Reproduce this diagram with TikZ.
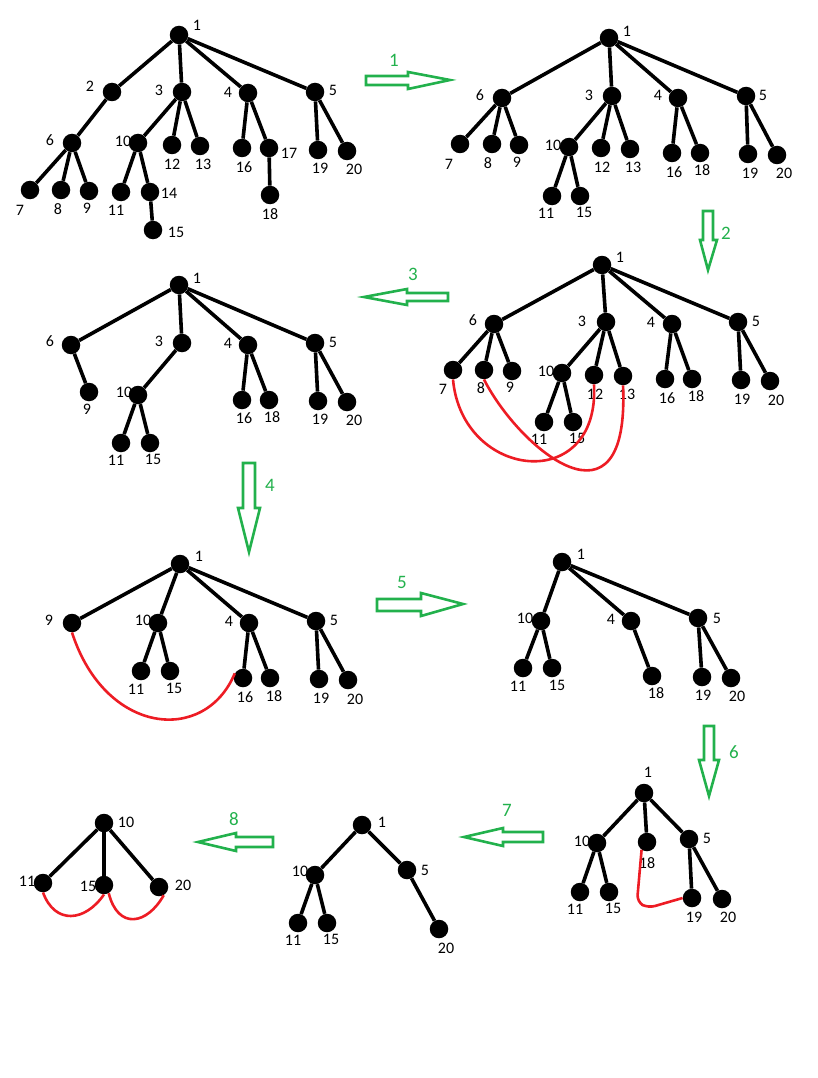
\documentclass[tikz,border=0pt]{standalone}
\usepackage{fontspec}
\setmainfont{Carlito}

\definecolor{paintgreen}{RGB}{34,177,76}
\definecolor{paintred}{RGB}{237,28,36}

\begin{document}
\begin{tikzpicture}[x=1pt, y=-1pt,
    dot/.style={circle, fill=black, minimum size=18.5pt, inner sep=0pt},
    lbl/.style={font=\fontsize{16}{16}\selectfont, inner sep=0pt},
    edge/.style={line width=3.6pt, draw=black},
    cut/.style={line width=2.6pt, draw=paintred},
    garrow/.style={line width=2.6pt, draw=paintgreen, line join=miter},
    glbl/.style={font=\fontsize{19}{19}\selectfont, text=paintgreen, inner sep=0pt}
]
    \useasboundingbox (0,0) rectangle (818,1078);

    % tree a (start)
    \foreach \n/\x/\y/\dx/\dy in {1/179/35/18/10, 2/112/92/-22/6, 3/182/92/-23/2, 4/248/93/-20/1, 5/315/92/18/2,
        6/72/143/-22/3, 10/138/143/-15/2, 12/172/145/0/-19, 13/200/146/3/-18, 16/242/148/2/-19,
        17/269/148/20/-5, 19/318/150/2/-18, 20/347/151/7/-18, 7/30/190/-10/-20, 8/61/190/-3/-19,
        9/89/191/-2/-17, 11/121/192/-5/-18, 14/150/192/19/-1, 15/153/230/23/-2, 18/270/195/0/-19}
        \node[dot, label={[lbl, xshift=\dx pt, yshift=\dy pt]center:\n}] (a\n) at (\x,\y) {};
    \foreach \p/\c in {1/2, 1/3, 1/4, 1/5, 2/6, 6/7, 6/8, 6/9, 3/10, 3/12, 3/13, 10/11, 10/14, 14/15,
        4/16, 4/17, 17/18, 5/19, 5/20}
        \draw[edge] (a\p) -- (a\c);

    % tree b
    \foreach \n/\x/\y/\dx/\dy in {1/609/38/18/7, 6/502/98/-22/3, 3/612/96/-23/1, 4/678/98/-20/3, 5/746/96/17/1,
        7/460/144/-11/-20, 8/492/144/-4/-19, 9/519/145/-2/-17, 10/569/147/-16/2, 12/601/148/1/-19,
        13/630/149/3/-18, 16/672/153/2/-19, 18/700/153/2/-17, 19/748/154/2/-19, 20/777/155/7/-18,
        11/552/196/-6/-17, 15/580/196/4/-16}
        \node[dot, label={[lbl, xshift=\dx pt, yshift=\dy pt]center:\n}] (b\n) at (\x,\y) {};
    \foreach \p/\c in {1/6, 1/3, 1/4, 1/5, 6/7, 6/8, 6/9, 3/10, 3/12, 3/13, 10/11, 10/15,
        4/16, 4/18, 5/19, 5/20}
        \draw[edge] (b\p) -- (b\c);

    % tree c
    \foreach \n/\x/\y/\dx/\dy in {1/602/265/18/8, 6/494/324/-21/4, 3/606/322/-24/1, 4/672/324/-21/2, 5/738/322/18/1,
        7/453/370/-10/-19, 8/484/370/-3/-18, 9/512/371/-2/-16, 10/562/373/-16/2, 12/594/375/1/-19,
        13/623/376/4/-18, 16/665/379/2/-19, 18/692/379/4/-17, 19/741/380/1/-19, 20/770/381/6/-19,
        11/544/422/-5/-17, 15/573/422/4/-16}
        \node[dot, label={[lbl, xshift=\dx pt, yshift=\dy pt]center:\n}] (c\n) at (\x,\y) {};
    \foreach \p/\c in {1/6, 1/3, 1/4, 1/5, 6/7, 6/8, 6/9, 3/10, 3/12, 3/13, 10/11, 10/15,
        4/16, 4/18, 5/19, 5/20}
        \draw[edge] (c\p) -- (c\c);
    \draw[cut] (c7.south) .. controls (462,480) and (600,495) .. (c12.south);
    \draw[cut] (c8.south) .. controls (520,450) and (630,540) .. (c13.south);

    % tree d
    \foreach \n/\x/\y/\dx/\dy in {1/179/285/18/7, 6/71/345/-21/4, 3/182/343/-23/2, 4/248/345/-20/2, 5/315/343/18/1,
        9/89/392/-2/-17, 10/138/395/-14/3, 16/242/400/2/-18, 18/269/400/3/-17, 19/318/401/2/-18,
        20/347/402/7/-18, 11/121/443/-5/-17, 15/150/443/3/-16}
        \node[dot, label={[lbl, xshift=\dx pt, yshift=\dy pt]center:\n}] (d\n) at (\x,\y) {};
    \foreach \p/\c in {1/6, 1/3, 1/4, 1/5, 6/9, 3/10, 10/11, 10/15, 4/16, 4/18, 5/19, 5/20}
        \draw[edge] (d\p) -- (d\c);

    % tree e
    \foreach \n/\x/\y/\dx/\dy in {1/180/564/19/8, 9/72/623/-23/3, 10/158/623/-15/3, 4/249/623/-20/2, 5/316/621/18/1,
        11/141/671/-5/-18, 15/170/671/4/-17, 16/243/678/2/-19, 18/270/678/4/-18, 19/319/679/2/-19,
        20/348/680/7/-19}
        \node[dot, label={[lbl, xshift=\dx pt, yshift=\dy pt]center:\n}] (e\n) at (\x,\y) {};
    \foreach \p/\c in {1/9, 1/10, 1/4, 1/5, 10/11, 10/15, 4/16, 4/18, 5/19, 5/20}
        \draw[edge] (e\p) -- (e\c);
    \draw[cut] (e9.south) .. controls (105,735) and (205,745) .. (e16.150);

    % tree f
    \foreach \n/\x/\y/\dx/\dy in {1/562/562/19/8, 10/541/621/-16/3, 4/631/621/-20/2, 5/698/618/19/0,
        11/523/668/-5/-18, 15/552/668/5/-17, 18/652/676/4/-17, 19/702/677/1/-18, 20/731/678/6/-18}
        \node[dot, label={[lbl, xshift=\dx pt, yshift=\dy pt]center:\n}] (f\n) at (\x,\y) {};
    \foreach \p/\c in {1/10, 1/4, 1/5, 10/11, 10/15, 4/18, 5/19, 5/20}
        \draw[edge] (f\p) -- (f\c);

    % tree g
    \foreach \n/\x/\y/\dx/\dy in {1/644/793/4/21, 10/597/843/-15/2, 18/647/842/0/-21, 5/689/839/18/1,
        11/580/892/-5/-17, 15/609/892/4/-16, 19/692/898/2/-19, 20/722/899/6/-18}
        \node[dot, label={[lbl, xshift=\dx pt, yshift=\dy pt]center:\n}] (g\n) at (\x,\y) {};
    \foreach \p/\c in {1/10, 1/18, 1/5, 10/11, 10/15, 5/19, 5/20}
        \draw[edge] (g\p) -- (g\c);
    \draw[cut, rounded corners=7pt] (g18.235) -- (637,902) -- (648,908) -- (g19.west);

    % tree h
    \foreach \n/\x/\y/\dx/\dy in {1/362/825/20/3, 10/315/875/-15/4, 5/407/870/18/0,
        11/298/923/-5/-17, 15/327/923/4/-16, 20/439/929/7/-19}
        \node[dot, label={[lbl, xshift=\dx pt, yshift=\dy pt]center:\n}] (h\n) at (\x,\y) {};
    \foreach \p/\c in {1/10, 1/5, 10/11, 10/15, 5/20}
        \draw[edge] (h\p) -- (h\c);

    % tree i (end)
    \foreach \n/\x/\y/\dx/\dy in {10/104/823/22/1, 11/43/883/-16/2, 15/104/885/-16/-1, 20/159/887/24/2}
        \node[dot, label={[lbl, xshift=\dx pt, yshift=\dy pt]center:\n}] (i\n) at (\x,\y) {};
    \foreach \p/\c in {10/11, 10/15, 10/20}
        \draw[edge] (i\p) -- (i\c);
    \draw[cut] (i11.south) .. controls (55,925) and (85,922) .. (i15.south);
    \draw[cut] (i15.-60) .. controls (118,930) and (147,925) .. (i20.-60);

    % step arrows
    \draw[garrow] (366,76) -- (408,76) -- (408,72) -- (450,80) -- (408,89) -- (408,85) -- (366,85) -- cycle;
    \draw[garrow] (703,211) -- (713,211) -- (713,240) -- (717,240) -- (708,270) -- (700,240) -- (703,240) -- cycle;
    \draw[garrow] (448,293) -- (407,293) -- (407,289) -- (364,297) -- (407,305) -- (407,301) -- (448,301) -- cycle;
    \draw[garrow] (243,463) -- (255,463) -- (255,508) -- (260,508) -- (249,552) -- (238,508) -- (243,508) -- cycle;
    \draw[garrow] (377,599) -- (421,599) -- (421,593) -- (463,604) -- (421,616) -- (421,611) -- (377,611) -- cycle;
    \draw[garrow] (704,726) -- (714,726) -- (714,760) -- (719,760) -- (709,796) -- (699,760) -- (704,760) -- cycle;
    \draw[garrow] (543,832) -- (503,832) -- (503,828) -- (464,837) -- (503,846) -- (503,842) -- (543,842) -- cycle;
    \draw[garrow] (273,837) -- (236,837) -- (236,833) -- (198,842) -- (236,851) -- (236,847) -- (273,847) -- cycle;

    \node[glbl] (s1) at (394,60) {1};
    \node[glbl] (s2) at (726,233) {2};
    \node[glbl] (s3) at (413,274) {3};
    \node[glbl] (s4) at (270,485) {4};
    \node[glbl] (s5) at (402,582) {5};
    \node[glbl] (s6) at (734,752) {6};
    \node[glbl] (s7) at (507,810) {7};
    \node[glbl] (s8) at (234,819) {8};
\end{tikzpicture}
\end{document}
